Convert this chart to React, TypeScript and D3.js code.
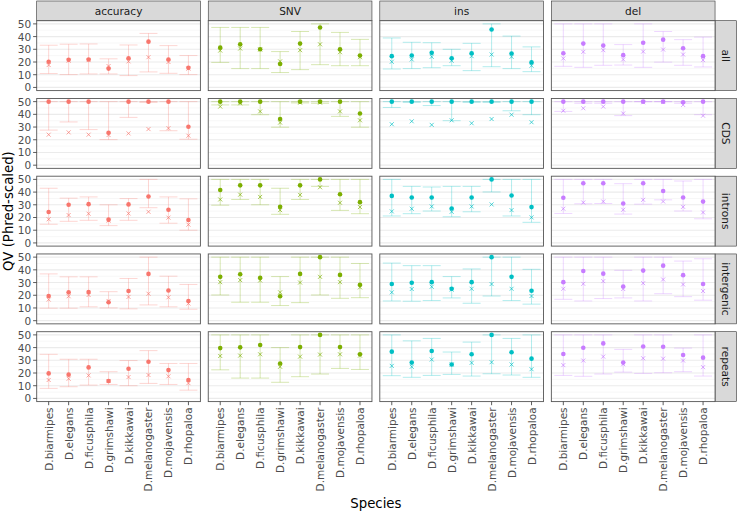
import React from "react";
import * as d3 from "d3";

const species = ["D.biarmipes", "D.elegans", "D.ficusphila", "D.grimshawi", "D.kikkawai", "D.melanogaster", "D.mojavensis", "D.rhopaloa"];
const metrics = ["accuracy", "SNV", "ins", "del"];
const regions = ["all", "CDS", "introns", "intergenic", "repeats"];
const metricColors = ["#F8766D", "#7CAE00", "#00BFC4", "#C77CFF"];
const yTicks = [0, 10, 20, 30, 40, 50];

// each: [accuracy, SNV, ins, del] x species
const allPoint = [
  [20.2, 21.8, 22, 14.8, 23, 36, 22, 15.5],
  [31.3, 33.9, 30, 18.4, 34.5, 47.2, 30, 25.1],
  [24.6, 25.1, 27.2, 23, 26.9, 45.6, 26.7, 19.7],
  [26.9, 34.5, 32.9, 25.4, 35.2, 37.6, 30.8, 24.6],
];
const allCross = [
  [17.6, 21, 21.5, 16.8, 20.5, 23.8, 20, 14.8],
  [29, 30.6, 29.8, 20.5, 29.3, 33.9, 27.7, 23.8],
  [20.2, 22, 24.1, 21, 24.6, 25.9, 24.1, 17.1],
  [22.8, 28, 29.3, 22, 28.2, 29.8, 25.9, 21.5],
];
const allLow = [
  [10.9, 10.1, 10.6, 10.6, 9.3, 12.2, 11.1, 10.1],
  [19.7, 14.8, 14.8, 11.7, 14, 17.9, 17.1, 17.1],
  [14.5, 14.8, 15.5, 17.1, 13.2, 16.3, 14.8, 12.4],
  [16.6, 15.8, 17.4, 17.6, 15.8, 19.9, 17.4, 16.1],
];
const allHigh = [
  [33.2, 34, 34.2, 22.5, 33.4, 42.5, 32.9, 25.1],
  [47.2, 47.2, 47.2, 28.2, 44, 50, 43.3, 37.8],
  [38.9, 35.5, 35.2, 30, 34.7, 50, 40.4, 31.9],
  [50, 50, 50, 33.7, 50, 44, 37.6, 39.6],
];

const cdsPoint = [
  [50, 50, 50, 25.5, 50, 50, 50, 30.2],
  [50, 50, 50, 36.3, 50, 50, 50, 40.7],
  [50, 50, 50, 50, 50, 50, 50, 50],
  [50, 50, 50, 50, 50, 50, 49.5, 50],
];
const cdsCross = [
  [24, 25.8, 24, 23.7, 25, 28.4, 29.1, 23.2],
  [46.1, 48.7, 42.3, 33.5, 49.2, 49.2, 42.3, 35.3],
  [32.2, 34.5, 31.7, 35.3, 33, 36.3, 39.7, 33.8],
  [42.8, 44.8, 46.1, 40.7, 49.5, 49.8, 47.4, 38.9],
];
const cdsLow = [
  [27.6, 34, 28, 20.1, 37.6, 49.5, 27.1, 20.4],
  [47.4, 47.4, 39.7, 29.9, 49, 48.7, 38.4, 29.9],
  [45.4, 49.5, 46.9, 35, 49.5, 49.5, 42.8, 39.7],
  [42.3, 48.7, 48.7, 39, 50, 50, 48.7, 39.7],
];
const cdsHigh = [
  [50, 50, 50, 50, 50, 50, 50, 50],
  [50, 50, 50, 50, 50, 50, 50, 50],
  [50, 50, 50, 50, 50, 50, 50, 50],
  [50, 50, 50, 50, 50, 50, 50, 50],
];

const intronsPoint = [
  [24.3, 30, 30.5, 18.3, 30.3, 36.5, 26.1, 18],
  [41.7, 45.3, 45.3, 28.4, 45.3, 50, 38.3, 32.1],
  [37, 35.7, 35.7, 27.1, 35.7, 50, 37.3, 28.2],
  [35.5, 46.9, 46.9, 31, 46.9, 40.9, 35.7, 32.5],
];
const intronsCross = [
  [18.6, 21.9, 23, 17.5, 23.2, 24.5, 19.9, 14.4],
  [34.2, 38, 36.2, 25.8, 37.8, 43.8, 31.6, 28.2],
  [24.8, 26.9, 28.7, 24.5, 28.7, 30.3, 25.8, 20.1],
  [26.9, 31.8, 32.6, 26.1, 33.9, 32.6, 28.4, 24],
];
const intronsLow = [
  [14.7, 17, 17.8, 13.6, 17.8, 27.7, 15.5, 10],
  [29.7, 34.2, 30, 22.5, 34.2, 44.5, 25.6, 23],
  [21.2, 23, 25.1, 20.6, 24.5, 40.1, 21.2, 16.2],
  [23.2, 30.8, 31, 22.7, 30.5, 33.9, 25.1, 19],
];
const intronsHigh = [
  [43, 35.2, 36.2, 30, 34.9, 50, 36.2, 34.7],
  [50, 50, 50, 43, 50, 50, 50, 50],
  [50, 44.5, 44, 44.5, 44.5, 50, 50, 50],
  [50, 50, 50, 46.6, 50, 50, 48.7, 50],
];

const intergenicPoint = [
  [19.4, 22.3, 22.5, 14.5, 23.3, 36.8, 23.8, 15.5],
  [34.5, 36.5, 33.7, 19.2, 36.8, 50, 36, 28.2],
  [28.8, 29.8, 30.3, 25.1, 30.3, 50, 34.5, 23.6],
  [30.3, 39.1, 37, 26.9, 39.4, 43.3, 35.8, 28.8],
];
const intergenicCross = [
  [16.6, 19.2, 20.2, 15.5, 18.7, 21.2, 18.4, 13.5],
  [30.3, 31.9, 31.6, 22.3, 30, 34.5, 30.3, 26.2],
  [22.3, 24.9, 26.7, 24.4, 25.1, 28.8, 25.1, 19.4],
  [25.1, 29, 31.1, 24.9, 29.5, 32.4, 28.5, 23.3],
];
const intergenicLow = [
  [9.8, 9.8, 10.9, 10, 9.3, 12.4, 10.9, 9],
  [20.2, 14.5, 14.5, 11.9, 14.2, 20.2, 17.6, 18.1],
  [15.5, 15.3, 15.8, 17.9, 13.7, 19.4, 15.8, 13],
  [16.8, 15.5, 17.4, 17.9, 15.5, 21.2, 18.9, 16.1],
];
const intergenicHigh = [
  [36.8, 34.5, 34.5, 22.8, 33.2, 50, 35, 28.5],
  [50, 50, 50, 34.7, 50, 50, 50, 45],
  [45.3, 43.3, 43.3, 34.7, 40.7, 50, 50, 40.4],
  [50, 50, 50, 39.6, 50, 50, 46.9, 48.7],
];

const repeatsPoint = [
  [19.7, 18.7, 24.4, 13.7, 23.3, 28.8, 22.3, 14.5],
  [39.6, 40.2, 42, 27.5, 40.4, 50, 40.4, 34.7],
  [36.8, 28.2, 37.3, 26.7, 34.7, 50, 36.3, 31.3],
  [35, 39.9, 43.3, 28.2, 40.9, 40.7, 34.2, 32.1],
];
const repeatsCross = [
  [14.5, 15.5, 18.1, 13.7, 16.8, 18.4, 17.4, 12],
  [33.4, 33.7, 34.7, 24.9, 32.9, 34.5, 34.7, 33.7],
  [25.6, 24.9, 30.6, 26.7, 28, 28.5, 26.7, 23],
  [26.2, 29.8, 32.9, 26.9, 31.6, 31.3, 29.8, 24.6],
];
const repeatsLow = [
  [7.9, 9.2, 10.5, 11, 10, 11.8, 11, 6.5],
  [22.5, 16, 16, 12.7, 17.1, 19.2, 23.6, 22.8],
  [17.9, 16.6, 18.1, 18.9, 17.6, 19.4, 18.4, 16.6],
  [18.1, 17.4, 19.2, 20.7, 19.7, 20.2, 21, 17.6],
];
const repeatsHigh = [
  [34.7, 30.8, 30.8, 21, 29.8, 37.6, 27.5, 27.5],
  [50, 50, 50, 40, 50, 50, 50, 50],
  [50, 45.3, 47.2, 36.5, 44.3, 50, 47.2, 50],
  [50, 50, 50, 38.6, 50, 50, 39.6, 50],
];

const pointData = [allPoint, cdsPoint, intronsPoint, intergenicPoint, repeatsPoint];
const crossData = [allCross, cdsCross, intronsCross, intergenicCross, repeatsCross];
const lowData = [allLow, cdsLow, intronsLow, intergenicLow, repeatsLow];
const highData = [allHigh, cdsHigh, intronsHigh, intergenicHigh, repeatsHigh];

const W = 737;
const H = 511;
const left0 = 36.7;
const top0 = 20.7;
const pw = 163.7;
const ph = 69.9;
const gap = 7.85;
const stripH = 19.7;
const font = "DejaVu Sans, Verdana, sans-serif";

export default function App() {
  const x = d3.scalePoint<string>().domain(species).range([0, pw]).padding(0.6);
  const y = d3.scaleLinear().domain([-2.5, 52.5]).range([ph, 0]);
  const step = x.step();
  const capHalf = (step * 0.9) / 2;
  const minorTicks = [5, 15, 25, 35, 45];
  const bottom = top0 + 4 * (ph + gap) + ph;
  const rightEdge = left0 + 3 * (pw + gap) + pw;

  return (
    <div style={{ position: "fixed", left: 0, top: 0 }}>
      <svg width={W} height={H} style={{ display: "block", background: "#fff" }} fontFamily={font}>
        {/* top strips */}
        {metrics.map((m, c) => {
          const px = left0 + c * (pw + gap);
          return (
            <g key={"ts" + m}>
              <rect x={px} y={top0 - stripH} width={pw} height={stripH} fill="#D9D9D9" stroke="#333" strokeWidth={0.6} />
              <text x={px + pw / 2} y={top0 - stripH / 2} textAnchor="middle" dominantBaseline="central" fontSize={10.6} fill="#1A1A1A">
                {m}
              </text>
            </g>
          );
        })}
        {/* right strips */}
        {regions.map((r, ri) => {
          const py = top0 + ri * (ph + gap);
          return (
            <g key={"rs" + r}>
              <rect x={rightEdge} y={py} width={W - rightEdge - 0.5} height={ph} fill="#D9D9D9" stroke="#333" strokeWidth={0.6} />
              <text
                transform={`translate(${(rightEdge + W) / 2},${py + ph / 2}) rotate(90)`}
                textAnchor="middle"
                dominantBaseline="central"
                fontSize={10.6}
                fill="#1A1A1A"
              >
                {r}
              </text>
            </g>
          );
        })}
        {regions.map((r, ri) =>
          metrics.map((m, c) => {
            const px = left0 + c * (pw + gap);
            const py = top0 + ri * (ph + gap);
            const col = metricColors[c];
            const pts = pointData[ri][c];
            const crs = crossData[ri][c];
            const lo = lowData[ri][c];
            const hi = highData[ri][c];
            return (
              <g key={r + m} transform={`translate(${px},${py})`}>
                <rect x={0} y={0} width={pw} height={ph} fill="#fff" />
                {minorTicks.map((t) => (
                  <line key={"mn" + t} x1={0} x2={pw} y1={y(t)} y2={y(t)} stroke="#F2F2F2" strokeWidth={0.6} />
                ))}
                {yTicks.map((t) => (
                  <line key={"mj" + t} x1={0} x2={pw} y1={y(t)} y2={y(t)} stroke="#EBEBEB" strokeWidth={1.1} />
                ))}
                {species.map((s, i) => {
                  const cx = x(s) as number;
                  return (
                    <g key={"eb" + s} stroke={col} strokeOpacity={0.3} strokeWidth={1}>
                      <line x1={cx} x2={cx} y1={y(lo[i])} y2={y(hi[i])} />
                      <line x1={cx - capHalf} x2={cx + capHalf} y1={y(lo[i])} y2={y(lo[i])} />
                      <line x1={cx - capHalf} x2={cx + capHalf} y1={y(hi[i])} y2={y(hi[i])} />
                    </g>
                  );
                })}
                {species.map((s, i) => (
                  <circle key={"pt" + s} cx={x(s) as number} cy={y(pts[i])} r={2.3} fill={col} />
                ))}
                {species.map((s, i) => {
                  const cx = x(s) as number;
                  const cy = y(crs[i]);
                  const d = 2;
                  return (
                    <path
                      key={"cr" + s}
                      d={`M${cx - d},${cy - d}L${cx + d},${cy + d}M${cx - d},${cy + d}L${cx + d},${cy - d}`}
                      stroke={col}
                      strokeOpacity={0.75}
                      strokeWidth={0.9}
                      fill="none"
                    />
                  );
                })}
                <rect x={0} y={0} width={pw} height={ph} fill="none" stroke="#555" strokeWidth={0.9} />
                {c === 0 &&
                  yTicks.map((t) => (
                    <g key={"yt" + t}>
                      <line x1={-3.6} x2={0} y1={y(t)} y2={y(t)} stroke="#333" strokeWidth={0.8} />
                      <text x={-5.6} y={y(t)} textAnchor="end" dominantBaseline="central" fontSize={10.5} fill="#4D4D4D">
                        {t}
                      </text>
                    </g>
                  ))}
                {ri === regions.length - 1 &&
                  species.map((s) => {
                    const cx = x(s) as number;
                    return (
                      <g key={"xt" + s}>
                        <line x1={cx} x2={cx} y1={ph} y2={ph + 3.6} stroke="#333" strokeWidth={0.8} />
                        <text
                          transform={`translate(${cx},${ph + 5.8}) rotate(-90)`}
                          textAnchor="end"
                          dominantBaseline="central"
                          fontSize={10.5}
                          fill="#4D4D4D"
                        >
                          {s}
                        </text>
                      </g>
                    );
                  })}
              </g>
            );
          })
        )}
        <text
          transform={`translate(8,${(top0 + bottom) / 2}) rotate(-90)`}
          textAnchor="middle"
          dominantBaseline="central"
          fontSize={13.3}
          fill="#000"
        >
          QV (Phred-scaled)
        </text>
        <text x={(left0 + rightEdge) / 2} y={503} textAnchor="middle" dominantBaseline="central" fontSize={13.3} fill="#000">
          Species
        </text>
      </svg>
    </div>
  );
}
